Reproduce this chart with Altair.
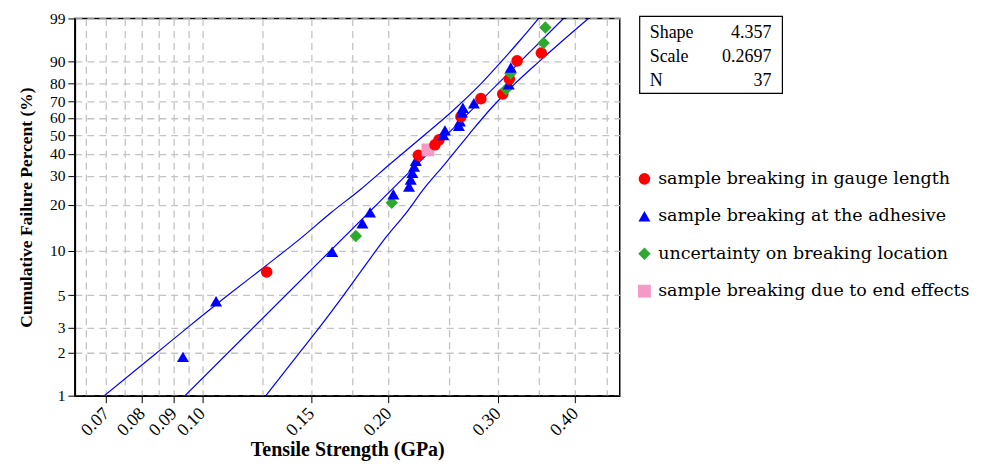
import math
import altair as alt
import pandas as pd

# ---------------- data ----------------
categories = [
    "sample breaking in gauge length",
    "sample breaking at the adhesive",
    "uncertainty on breaking location",
    "sample breaking due to end effects",
]
cat_colors = ["#ff0000", "#0000ff", "#2ea82e", "#f59ac6"]
cat_shapes = ["circle", "triangle-up", "diamond", "square"]
cat_sizes = [135, 165, 125, 115]

strength = [0.0931, 0.1053, 0.1271, 0.1621, 0.1770, 0.1814, 0.1866, 0.2023, 0.2035,
            0.2157, 0.2171, 0.2184, 0.2198, 0.2212, 0.2233, 0.2314, 0.2375, 0.2411,
            0.2451, 0.2465, 0.2596, 0.2606, 0.2616, 0.2626, 0.2635, 0.2745, 0.2817,
            0.3056, 0.3094, 0.3125, 0.3131, 0.3145, 0.3149, 0.3223, 0.3527, 0.3557,
            0.3580]
failure_pct = [1.87, 4.55, 7.22, 9.89, 12.57, 15.24, 17.91, 20.59, 23.26, 25.94, 28.61,
               31.28, 33.96, 36.63, 39.30, 41.98, 44.65, 47.33, 50.00, 52.67, 55.35,
               58.02, 60.70, 63.37, 66.04, 68.72, 71.39, 74.06, 76.74, 79.41, 82.09,
               84.76, 87.43, 90.11, 92.78, 95.45, 98.13]
# 0 gauge, 1 adhesive, 2 uncertain, 3 end effects
kind = [1, 1, 0, 1, 2, 1, 1, 2, 1, 1, 1, 1, 1, 1, 0, 3, 0, 0, 1, 1, 1, 1, 0, 1, 1, 1,
        0, 0, 2, 1, 0, 2, 1, 0, 0, 2, 2]

# fitted line and confidence bounds
fit_x = [0.0938, 0.383]
fit_pct = [1, 99]
bound_pct = [1, 2, 3, 5, 8, 12, 18, 25, 35, 50, 65, 80, 90, 96, 99]
upper_x = [0.0695, 0.0845, 0.0948, 0.1100, 0.1269, 0.1437, 0.1619, 0.1803, 0.2008,
           0.2285, 0.2551, 0.2824, 0.3044, 0.3257, 0.3490]
lower_x = [0.1267, 0.1436, 0.1546, 0.1691, 0.1833, 0.1969, 0.2139, 0.2277, 0.2462,
           0.2690, 0.2915, 0.3204, 0.3504, 0.3820, 0.4201]

x_grid = [0.065, 0.07, 0.075, 0.08, 0.085, 0.09, 0.095, 0.10, 0.125, 0.15, 0.175,
          0.20, 0.25, 0.30, 0.35, 0.40, 0.45]
x_labeled = [0.07, 0.08, 0.09, 0.10, 0.15, 0.20, 0.30, 0.40]
y_ticks = [1, 2, 3, 5, 10, 20, 30, 40, 50, 60, 70, 80, 90, 99]

stat_names = ["Shape", "Scale", "N"]
stat_values = ["4.357", "0.2697", "37"]

# ---------------- tables ----------------
pts = pd.DataFrame({
    "strength": strength,
    "pct": failure_pct,
    "cat": [categories[k] for k in kind],
})
lines = pd.concat([
    pd.DataFrame({"curve": "fit", "strength": fit_x, "pct": fit_pct}),
    pd.DataFrame({"curve": "upper", "strength": upper_x, "pct": bound_pct}),
    pd.DataFrame({"curve": "lower", "strength": lower_x, "pct": bound_pct}),
])


def weib(p):
    return math.log(-math.log(1 - p / 100.0))


W = "log(-log(1 - datum.pct/100))"
y_dom = [weib(1), weib(99)]
x_dom = [0.0623, 0.472]

lab_list = "[" + ",".join(str(v) for v in x_labeled) + "]"
is_lab = f"indexof({lab_list}, datum.value) >= 0"

x_axis = alt.Axis(
    values=x_grid,
    labelExpr=f"{is_lab} ? format(datum.value, '.2f') : ''",
    tickOpacity={"condition": {"test": is_lab, "value": 1}, "value": 0},
    labelAngle=315, labelAlign="right", labelBaseline="middle",
    labelOverlap=False, labelFlush=False, labelPadding=8,
    title="Tensile Strength (GPa)", titlePadding=0, titleFontSize=20,
)
y_axis = alt.Axis(
    values=[weib(p) for p in y_ticks],
    labelExpr="format(100*(1-exp(-exp(datum.value))), '.0f')",
    labelOverlap=False, labelFlush=False, labelPadding=3, labelFontSize=15.5,
    title="Cumulative Failure Percent (%)", titlePadding=14, titleFontSize=17.5,
)

X = alt.X("strength:Q", scale=alt.Scale(type="log", domain=x_dom, nice=False), axis=x_axis)
Y = alt.Y("wy:Q", scale=alt.Scale(domain=y_dom, nice=False, zero=False), axis=y_axis)

line_layer = alt.Chart(lines).transform_calculate(wy=W).mark_line(
    color="#0000ff", strokeWidth=1.2, interpolate="monotone", clip=True
).encode(x=X, y=Y, detail="curve:N")

point_layer = alt.Chart(pts).transform_calculate(wy=W).mark_point(
    filled=True, opacity=1
).encode(
    x=X, y=Y,
    color=alt.Color("cat:N", scale=alt.Scale(domain=categories, range=cat_colors),
                    legend=alt.Legend(
                        title=None, orient="none", legendX=562, legendY=152,
                        labelFont="DejaVu Serif", labelFontSize=17.5, labelColor="black",
                        symbolSize=240, symbolStrokeWidth=0, rowPadding=18.5,
                        labelOffset=5, padding=0, labelLimit=420)),
    shape=alt.Shape("cat:N", scale=alt.Scale(domain=categories, range=cat_shapes)),
    size=alt.Size("cat:N", scale=alt.Scale(domain=categories, range=cat_sizes), legend=None),
)

one = pd.DataFrame({"a": [0]})
box = alt.Chart(one).mark_rect(fill="white", stroke="black", strokeWidth=1.2).encode(
    x=alt.value(566), x2=alt.value(709), y=alt.value(-2), y2=alt.value(75)
)
texts = []
for i, (nm, vl) in enumerate(zip(stat_names, stat_values)):
    yy = 15 + 24 * i
    texts.append(alt.Chart(one).mark_text(
        font="Liberation Serif", fontSize=18, align="left", baseline="middle", color="black"
    ).encode(x=alt.value(576), y=alt.value(yy), text=alt.value(nm)))
    texts.append(alt.Chart(one).mark_text(
        font="Liberation Serif", fontSize=18, align="right", baseline="middle", color="black"
    ).encode(x=alt.value(698), y=alt.value(yy), text=alt.value(vl)))

chart = alt.layer(line_layer, point_layer, box, *texts).properties(
    width=546, height=378,
    autosize=alt.AutoSizeParams(type="none"),
    padding={"left": 67, "top": 10, "right": 355, "bottom": 69},
).configure_view(
    stroke="black", strokeWidth=1.5
).configure_axis(
    domainColor="black", domainWidth=1.5, tickColor="black", tickSize=7,
    labelFont="Liberation Serif", labelFontSize=18, labelColor="black",
    titleFont="Liberation Serif", titleFontWeight="bold",
    titleColor="black", gridColor="#c4c4c4", gridDash=[7, 5], gridWidth=1.3,
)

chart.save("out.html", embed_options={"renderer": "svg", "actions": False})
